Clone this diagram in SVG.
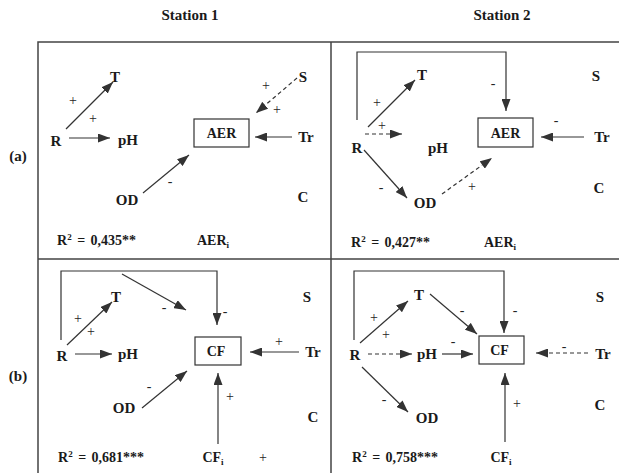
<svg xmlns="http://www.w3.org/2000/svg" width="619" height="473" viewBox="0 0 619 473">
<style>
text{font-family:"Liberation Serif","Times New Roman",serif;fill:#1a1a1a}
.n{font-size:15px;font-weight:bold;text-anchor:middle}
.b{font-size:14px;font-weight:bold;text-anchor:middle}
.h{font-size:15px;font-weight:bold;text-anchor:middle}
.r{font-size:14px;font-weight:bold;word-spacing:2px}
.s{font-size:14px;text-anchor:middle;fill:#222}
.frame{stroke:#444;stroke-width:1.5;fill:none}
.box{fill:none;stroke:#333;stroke-width:1.2}
.c{stroke:#333;stroke-width:1.2;fill:none;marker-end:url(#ah)}
.d{stroke-dasharray:4 3}
</style>
<defs>
<marker id="ah" markerUnits="userSpaceOnUse" markerWidth="12" markerHeight="9" refX="12" refY="4.5" orient="auto">
<path d="M0,0 L12,4.5 L0,9 z" fill="#333"/>
</marker>
</defs>
<rect width="619" height="473" fill="#fff"/>
<g id="frame">
<path class="frame" d="M38,473 V42 H619 M331,42 V473 M38,259 H619"/>
</g>
<g id="headers">
<text class="h" x="190" y="20">Station 1</text>
<text class="h" x="502" y="20">Station 2</text>
<text class="h" x="18" y="161">(a)</text>
<text class="h" x="18" y="381">(b)</text>
</g>
<g id="connectors">
<!-- 1a -->
<line class="c" x1="66" y1="129" x2="113" y2="82"/>
<line class="c" x1="69" y1="138" x2="110" y2="138"/>
<line class="c d" x1="297" y1="78" x2="256" y2="113"/>
<line class="c" x1="292" y1="137" x2="255" y2="137"/>
<line class="c" x1="143" y1="193" x2="189" y2="155"/>
<!-- 2a -->
<polyline class="c" points="357,120 357,52 506,52 506,111"/>
<line class="c" x1="368" y1="127" x2="415" y2="80"/>
<line class="c d" x1="365" y1="134" x2="402" y2="134"/>
<line class="c" x1="584" y1="137" x2="541" y2="137"/>
<line class="c" x1="364" y1="150" x2="407" y2="198"/>
<line class="c d" x1="442" y1="194" x2="492" y2="158"/>
<!-- 1b -->
<polyline class="c" points="61,340 61,271 217,271 217,325"/>
<line class="c" x1="122" y1="274" x2="186" y2="310"/>
<line class="c" x1="67" y1="345" x2="112" y2="302"/>
<line class="c" x1="75" y1="354" x2="112" y2="354"/>
<line class="c" x1="299" y1="352" x2="250" y2="352"/>
<line class="c" x1="142" y1="408" x2="187" y2="371"/>
<line class="c" x1="218" y1="444" x2="218" y2="373"/>
<!-- 2b -->
<polyline class="c" points="354,340 354,271 504,271 504,333"/>
<line class="c" x1="430" y1="294" x2="477" y2="334"/>
<line class="c" x1="360" y1="343" x2="408" y2="301"/>
<line class="c d" x1="368" y1="354" x2="412" y2="354"/>
<line class="c" x1="442" y1="354" x2="473" y2="354"/>
<line class="c d" x1="588" y1="353" x2="536" y2="353"/>
<line class="c" x1="362" y1="367" x2="408" y2="412"/>
<line class="c" x1="505" y1="442" x2="505" y2="373"/>
</g>
<g id="signs" opacity="0.99">
<text class="s" x="73" y="105">+</text>
<text class="s" x="93" y="123">+</text>
<text class="s" x="266" y="90">+</text>
<text class="s" x="277" y="114">+</text>
<text class="s" x="170" y="186">-</text>
<text class="s" x="493" y="88">-</text>
<text class="s" x="377" y="107">+</text>
<text class="s" x="382" y="130">+</text>
<text class="s" x="556" y="125">-</text>
<text class="s" x="381" y="192">-</text>
<text class="s" x="472" y="191">+</text>
<text class="s" x="225" y="316">-</text>
<text class="s" x="164" y="312">-</text>
<text class="s" x="78" y="323">+</text>
<text class="s" x="91" y="336">+</text>
<text class="s" x="279" y="346">+</text>
<text class="s" x="149" y="391">-</text>
<text class="s" x="230" y="401">+</text>
<text class="s" x="263" y="462">+</text>
<text class="s" x="515" y="315">-</text>
<text class="s" x="462" y="315">-</text>
<text class="s" x="374" y="322">+</text>
<text class="s" x="386" y="339">+</text>
<text class="s" x="453" y="346">-</text>
<text class="s" x="564" y="351">-</text>
<text class="s" x="384" y="404">-</text>
<text class="s" x="517" y="408">+</text>
</g>
<!-- Panel 1a nodes -->
<g id="p1a-T"><text class="n" x="115" y="82">T</text></g>
<g id="p1a-R"><text class="n" x="56" y="146">R</text></g>
<g id="p1a-pH"><text class="n" x="128" y="145">pH</text></g>
<g id="p1a-AER"><rect class="box" x="194" y="119" width="55" height="28"/><text class="b" x="221.5" y="138">AER</text></g>
<g id="p1a-Tr"><text class="n" x="306" y="142">Tr</text></g>
<g id="p1a-S"><text class="n" x="303" y="82">S</text></g>
<g id="p1a-C"><text class="n" x="303" y="202">C</text></g>
<g id="p1a-OD"><text class="n" x="127" y="205">OD</text></g>
<g id="p1a-R2"><text class="r" x="57" y="245">R<tspan font-size="9" dy="-5">2</tspan><tspan dy="5"> = 0,435**</tspan></text></g>
<g id="p1a-AERi"><text class="b" x="213" y="245">AER<tspan font-size="9" dy="3">i</tspan></text></g>
<!-- Panel 2a nodes -->
<g id="p2a-T"><text class="n" x="422" y="80">T</text></g>
<g id="p2a-S"><text class="n" x="596" y="81">S</text></g>
<g id="p2a-R"><text class="n" x="357" y="153">R</text></g>
<g id="p2a-pH"><text class="n" x="438" y="153">pH</text></g>
<g id="p2a-AER"><rect class="box" x="478" y="118" width="55" height="29"/><text class="b" x="505.5" y="137.5">AER</text></g>
<g id="p2a-Tr"><text class="n" x="602" y="142">Tr</text></g>
<g id="p2a-OD"><text class="n" x="425" y="208">OD</text></g>
<g id="p2a-C"><text class="n" x="599" y="193">C</text></g>
<g id="p2a-R2"><text class="r" x="351" y="247">R<tspan font-size="9" dy="-5">2</tspan><tspan dy="5"> = 0,427**</tspan></text></g>
<g id="p2a-AERi"><text class="b" x="500" y="247">AER<tspan font-size="9" dy="3">i</tspan></text></g>
<!-- Panel 1b nodes -->
<g id="p1b-T"><text class="n" x="116" y="302">T</text></g>
<g id="p1b-S"><text class="n" x="307" y="302">S</text></g>
<g id="p1b-R"><text class="n" x="62" y="361">R</text></g>
<g id="p1b-pH"><text class="n" x="128" y="359">pH</text></g>
<g id="p1b-CF"><rect class="box" x="195" y="337" width="46" height="28"/><text class="b" x="216" y="356">CF</text></g>
<g id="p1b-Tr"><text class="n" x="313" y="357">Tr</text></g>
<g id="p1b-OD"><text class="n" x="124" y="413">OD</text></g>
<g id="p1b-C"><text class="n" x="313" y="422">C</text></g>
<g id="p1b-CFi"><text class="b" x="213" y="462">CF<tspan font-size="9" dy="3">i</tspan></text></g>
<g id="p1b-R2"><text class="r" x="58" y="462">R<tspan font-size="9" dy="-5">2</tspan><tspan dy="5"> = 0,681***</tspan></text></g>
<!-- Panel 2b nodes -->
<g id="p2b-T"><text class="n" x="419" y="300">T</text></g>
<g id="p2b-S"><text class="n" x="600" y="302">S</text></g>
<g id="p2b-R"><text class="n" x="355" y="360">R</text></g>
<g id="p2b-pH"><text class="n" x="427" y="359">pH</text></g>
<g id="p2b-CF"><rect class="box" x="479" y="336" width="45" height="28"/><text class="b" x="499.5" y="355">CF</text></g>
<g id="p2b-Tr"><text class="n" x="603" y="359">Tr</text></g>
<g id="p2b-OD"><text class="n" x="427" y="423">OD</text></g>
<g id="p2b-C"><text class="n" x="600" y="410">C</text></g>
<g id="p2b-CFi"><text class="b" x="501" y="462">CF<tspan font-size="9" dy="3">i</tspan></text></g>
<g id="p2b-R2"><text class="r" x="352" y="462">R<tspan font-size="9" dy="-5">2</tspan><tspan dy="5"> = 0,758***</tspan></text></g>
</svg>
